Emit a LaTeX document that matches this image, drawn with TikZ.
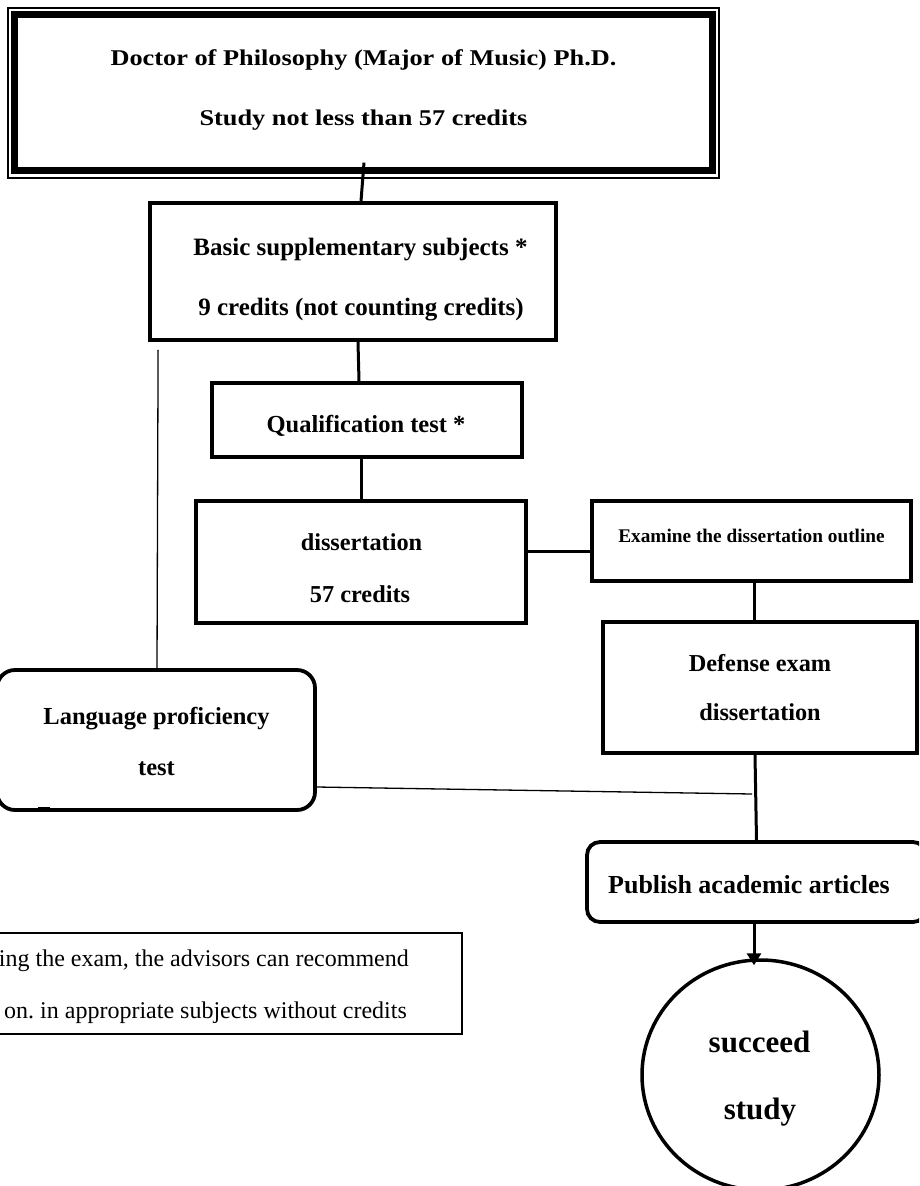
\documentclass[tikz,border=0pt]{standalone}
\usepackage{fontspec}
\usepackage{graphicx}
\setmainfont{Liberation Serif}
\usetikzlibrary{arrows.meta,shapes.geometric}
\frenchspacing
\tikzset{
  box/.style={draw, line width=3.8pt, rectangle, inner sep=0pt},
  rbox/.style={draw, line width=3.8pt, rectangle, rounded corners=18pt, inner sep=0pt},
  conn/.style={line width=3pt},
  thinconn/.style={line width=1.3pt},
  txt/.style={anchor=base, inner sep=0pt, font=\bfseries\fontsize{#1}{#1}\selectfont},
  ntxt/.style={anchor=base east, inner sep=0pt, font=\fontsize{#1}{#1}\selectfont},
}
\begin{document}
\begin{tikzpicture}[x=1pt,y=-1pt]
\clip (0,0) rectangle (919,1186);
\fill[white] (0,0) rectangle (919,1186);

% top box with double border
\node[draw, line width=1.2pt, minimum width=711pt, minimum height=170pt, inner sep=0pt] (top) at (363.5,93) {};
\draw[line width=7pt] ([shift={(7.5,7.5)}]top.north west) rectangle ([shift={(-7.5,-8)}]top.south east);
\node[txt=22.5] (t1) at (363.5,65) {\scalebox{1.17}[1]{Doctor of Philosophy (Major of Music) Ph.D.}};
\node[txt=22.5] (t2) at (363.5,125) {\scalebox{1.17}[1]{Study not less than 57 credits}};

% basic
\node[box, minimum width=406pt, minimum height=137pt] (basic) at (353,271.5) {};
\node[txt=25] (b1) at (360.5,255) {Basic supplementary subjects *};
\node[txt=25] (b2) at (361,315) {9 credits (not counting credits)};

% qualification
\node[box, minimum width=310pt, minimum height=74pt] (qual) at (367,420) {};
\node[txt=24.5] (q1) at (366,432) {Qualification test *};

% dissertation
\node[box, minimum width=330pt, minimum height=122pt] (diss) at (361,562) {};
\node[txt=24.3] (d1) at (361.5,550) {dissertation};
\node[txt=24.3] (d2) at (360,602) {57 credits};

% examine
\node[box, minimum width=319pt, minimum height=80pt] (exam) at (751.5,541) {};
\node[txt=19.3] (e1) at (751.5,542) {Examine the dissertation outline};

% defense
\node[box, minimum width=314pt, minimum height=131pt] (def) at (760,687.5) {};
\node[txt=24.3] (f1) at (760,671) {Defense exam};
\node[txt=24.3] (f2) at (760,720) {dissertation};

% language
\node[rbox, minimum width=318pt, minimum height=140pt] (lang) at (156,740) {};
\node[txt=24.5] (l1) at (156.5,724) {Language proficiency};
\node[txt=24.5] (l2) at (156.5,775) {test};
\draw[line width=5pt] (38,809) -- (50,809);

% publish
\node[draw, line width=3.8pt, rounded corners=13pt, minimum width=339pt, minimum height=80pt, inner sep=0pt] (pub) at (756.5,882) {};
\node[anchor=base east, inner sep=0pt, font=\bfseries\fontsize{26}{26}\selectfont] (p1) at (890,893) {Publish academic articles};

% succeed
\node[draw, ellipse, line width=3.5pt, minimum width=237pt, minimum height=230pt, inner sep=0pt] (succ) at (760.5,1075) {};
\node[txt=31] (s1) at (759.5,1052) {succeed};
\node[txt=31] (s2) at (760,1119) {study};

% note
\node[draw, line width=1.5pt, minimum width=467pt, minimum height=101pt, inner sep=0pt] (note) at (228.5,983.5) {};
\node[ntxt=24] (n1) at (409,966) {ing the exam, the advisors can recommend};
\node[ntxt=24] (n2) at (407,1018) {on. in appropriate subjects without credits};

% connectors
\draw[conn] ([shift={(0.5,-16)}]top.south) -- ([shift={(8,0)}]basic.north);
\draw[conn] ([shift={(5,0)}]basic.south) -- ([shift={(-8,0)}]qual.north);
\draw[conn] ([shift={(-6,0)}]qual.south) -- (diss.north);
\draw[conn] ([shift={(0,-11)}]diss.east) -- ([shift={(0,10)}]exam.west);
\draw[conn] ([shift={(2.5,0)}]exam.south) -- ([shift={(-6,0)}]def.north);
\draw[conn] ([shift={(-5,0)}]def.south) -- (pub.north);
\draw[thinconn] ([shift={(10,8)}]basic.south west) -- ([shift={(1,0)}]lang.north);
\coordinate (lend) at (752,794);
\draw[thinconn] ([shift={(0,47)}]lang.east) -- (lend);
\draw[conn, -{Triangle[width=14pt,length=12pt]}] ([shift={(-2.5,0)}]pub.south) -- ([shift={(-6.5,7)}]succ.north);
\end{tikzpicture}
\end{document}
